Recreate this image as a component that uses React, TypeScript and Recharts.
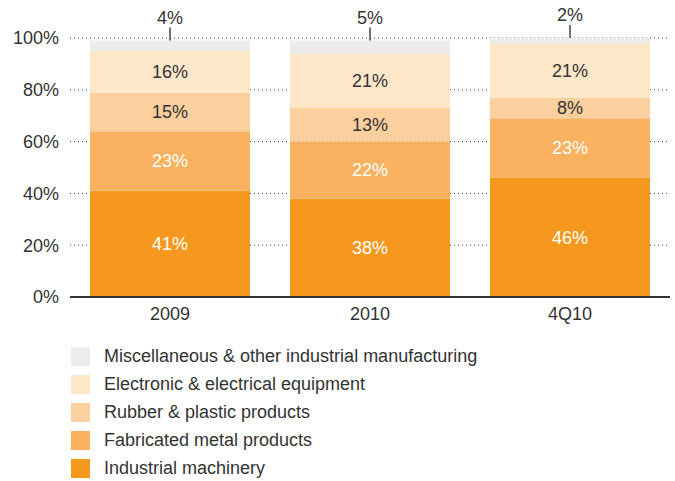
import { BarChart, Bar, XAxis, YAxis, CartesianGrid, Legend, LabelList } from "recharts";

// Categories and series values (percent shares)
const categories = ["2009", "2010", "4Q10"];
const machinery = [41, 38, 46];
const fabricated = [23, 22, 23];
const rubber = [15, 13, 8];
const electronic = [16, 21, 21];
const misc = [4, 5, 2];
const yTicks = [0, 20, 40, 60, 80, 100];

const FONT = "'Liberation Sans', Arial, Helvetica, sans-serif";
const TEXT = "#333333";
const FS = 18;

const series = [
  { key: "machinery", name: "Industrial machinery", color: "#f7981e", label: "#ffffff" },
  { key: "fabricated", name: "Fabricated metal products", color: "#fbb260", label: "#ffffff" },
  { key: "rubber", name: "Rubber & plastic products", color: "#fcd09e", label: TEXT },
  { key: "electronic", name: "Electronic & electrical equipment", color: "#fee6c9", label: TEXT },
  { key: "misc", name: "Miscellaneous & other industrial manufacturing", color: "#edecea", label: TEXT },
];

const data = categories.map((c, i) => ({
  name: c,
  machinery: machinery[i],
  fabricated: fabricated[i],
  rubber: rubber[i],
  electronic: electronic[i],
  misc: misc[i],
}));

// label above the top (misc) segment, with a short pointer line
const TopLabel = (props: any) => {
  const { x, y, width, value } = props;
  const cx = x + width / 2;
  return (
    <g>
      <line x1={cx} x2={cx} y1={y - 13} y2={y} stroke="#444" strokeWidth={1.5} />
      <text x={cx} y={y - 17} textAnchor="middle" fill={TEXT} fontSize={FS} fontFamily={FONT}>
        {value}%
      </text>
    </g>
  );
};

const renderLegend = () => (
  <div style={{ position: "relative", fontFamily: FONT, fontSize: FS, color: TEXT }}>
    {[...series].reverse().map((s, i) => (
      <div key={s.key} style={{ position: "absolute", left: 0, top: i * 28, height: 19, width: 600 }}>
        <div style={{ position: "absolute", left: 71, top: 0, width: 19, height: 19, background: s.color }} />
        <div style={{ position: "absolute", left: 104, top: 0, lineHeight: "19px", whiteSpace: "nowrap" }}>
          {s.name}
        </div>
      </div>
    ))}
  </div>
);

export default function App() {
  return (
    <div style={{ position: "absolute", left: 0, top: 0 }}>
      <BarChart
        width={675}
        height={481}
        data={data}
        margin={{ top: 38, right: 5, left: 0, bottom: 154 }}
        barSize={160}
      >
        <CartesianGrid vertical={false} stroke="#444" strokeDasharray="1 3" />
        <XAxis
          dataKey="name"
          height={30}
          tickLine={false}
          axisLine={{ stroke: "#333", strokeWidth: 2 }}
          tickMargin={4}
          tick={{ fill: TEXT, fontSize: FS, fontFamily: FONT }}
        />
        <YAxis
          width={70}
          domain={[0, 100]}
          ticks={yTicks}
          tickFormatter={(v) => `${v}%`}
          axisLine={false}
          tickLine={false}
          tickMargin={5}
          tick={{ fill: TEXT, fontSize: FS, fontFamily: FONT }}
        />
        <Legend
          layout="vertical"
          align="center"
          verticalAlign="middle"
          content={renderLegend}
          wrapperStyle={{ left: 0, top: 347, width: 675, height: 130 }}
        />
        {series.map((s) => (
          <Bar key={s.key} dataKey={s.key} name={s.name} stackId="a" fill={s.color} isAnimationActive={false}>
            {s.key === "misc" ? (
              <LabelList dataKey={s.key} content={TopLabel} />
            ) : (
              <LabelList
                dataKey={s.key}
                position="center"
                formatter={(v: any) => `${v}%`}
                fill={s.label}
                fontSize={FS}
                fontFamily={FONT}
              />
            )}
          </Bar>
        ))}
      </BarChart>
    </div>
  );
}
